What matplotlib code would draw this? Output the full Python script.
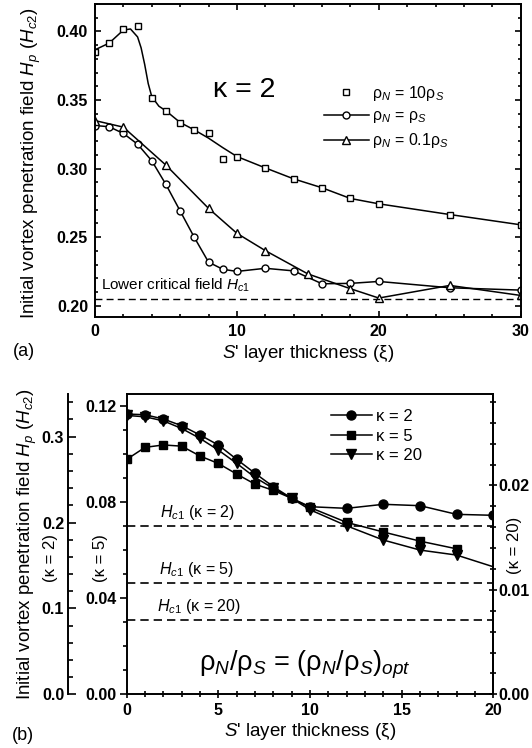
import matplotlib

matplotlib.use("Agg")
import matplotlib.pyplot as plt
from matplotlib.ticker import MultipleLocator, FormatStrFormatter

plt.rcParams['font.family'] = ['Liberation Sans', 'DejaVu Sans']
plt.rcParams['mathtext.fontset'] = 'custom'
plt.rcParams['mathtext.rm'] = 'Liberation Sans'
plt.rcParams['mathtext.it'] = 'Liberation Sans:italic'
plt.rcParams['mathtext.bf'] = 'Liberation Sans:bold'

# ---- panel (a): kappa = 2, three resistivity ratios ----
sq_x = [0, 1, 2, 3, 4, 5, 6, 7, 8, 9, 10, 12, 14, 16, 18, 20, 25, 30]
sq_y = [0.3847, 0.3913, 0.4017, 0.4036, 0.3518, 0.3421, 0.3332, 0.3282, 0.3262,
        0.3071, 0.3085, 0.3003, 0.2924, 0.2859, 0.2782, 0.2743, 0.2665, 0.2590]
# fitted curve drawn through the square data
sq_fit_x = [0, 1, 2, 2.5, 3, 3.25, 3.5, 3.75, 4, 4.5, 5, 6, 7, 8, 9, 10,
            12, 14, 16, 18, 20, 25, 30]
sq_fit_y = [0.3866, 0.3915, 0.4010, 0.4018, 0.3960, 0.3880, 0.3760, 0.3620,
            0.3525, 0.3455, 0.3421, 0.3336, 0.3282, 0.3222, 0.3153, 0.3088,
            0.3005, 0.2925, 0.2860, 0.2782, 0.2743, 0.2665, 0.2590]

ci_x = [0, 1, 2, 3, 4, 5, 6, 7, 8, 9, 10, 12, 14, 16, 18, 20, 25, 30]
ci_y = [0.3314, 0.3305, 0.3256, 0.3178, 0.3057, 0.2884, 0.2691, 0.2498, 0.2318,
        0.2266, 0.2250, 0.2273, 0.2254, 0.2160, 0.2163, 0.2177, 0.2131, 0.2114]

tr_x = [0, 2, 5, 8, 10, 12, 15, 18, 20, 25, 30]
tr_y = [0.3350, 0.3302, 0.3025, 0.2710, 0.2528, 0.2402, 0.2232, 0.2124,
        0.2056, 0.2148, 0.2075]

hc1_a = 0.2047

# ---- panel (b): optimal ratio, three kappas (each on its own axis) ----
xb = [0, 1, 2, 3, 4, 5, 6, 7, 8, 9, 10, 12, 14, 16, 18, 20]
k2_y = [0.3263, 0.3255, 0.3205, 0.3127, 0.3019, 0.2902, 0.2736, 0.2573, 0.2417,
        0.2282, 0.2184, 0.2165, 0.2212, 0.2196, 0.2095, 0.2084]
xb5 = [0, 1, 2, 3, 4, 5, 6, 7, 8, 9, 10, 12, 14, 16, 18]
k5_y = [0.0977, 0.1027, 0.1037, 0.1032, 0.0991, 0.0960, 0.0916, 0.0874, 0.0848,
        0.0815, 0.0777, 0.0715, 0.0675, 0.0637, 0.0605]
k20_y = [0.02670, 0.02657, 0.02618, 0.02545, 0.02450, 0.02338, 0.02211, 0.02077,
         0.01971, 0.01876, 0.01767, 0.01613, 0.01477, 0.01381, 0.01333, 0.01221]
hc1_k2 = 0.1956
hc1_k5 = 0.0463
hc1_k20 = 0.00711

W, H = 532, 748
TICK_FS = 11.5
LABEL_FS = 13.5
XLABEL = "$S$' layer thickness (ξ)"
YLABEL = 'Initial vortex penetration field $H_p$ ($H_{c2}$)'


def box(l, t, r, b):
    return [l / W, 1 - b / H, (r - l) / W, (b - t) / H]


fig = plt.figure(figsize=(W / 100, H / 100), dpi=100)

# Panel (a)
axa = fig.add_axes(box(95, 4, 520.7, 316.7))
axa.plot(sq_fit_x, sq_fit_y, color='k', lw=1.1)
axa.plot(sq_x, sq_y, ls='none', marker='s', ms=5, mfc='white', mec='k', mew=1,
         label='ρ$_N$ = 10ρ$_S$')
axa.plot(ci_x, ci_y, color='k', lw=1.1, marker='o', ms=5, mfc='white', mec='k',
         mew=1, label='ρ$_N$ = ρ$_S$')
axa.plot(tr_x, tr_y, color='k', lw=1.1, marker='^', ms=5.5, mfc='white', mec='k',
         mew=1, label='ρ$_N$ = 0.1ρ$_S$')
axa.axhline(hc1_a, color='k', lw=1, ls=(0, (5, 3)))
axa.set_xlim(0, 30)
axa.set_ylim(0.192, 0.420)
axa.xaxis.set_major_locator(MultipleLocator(10))
axa.xaxis.set_minor_locator(MultipleLocator(2))
axa.yaxis.set_major_locator(MultipleLocator(0.05))
axa.yaxis.set_minor_locator(MultipleLocator(0.01))
axa.yaxis.set_major_formatter(FormatStrFormatter('%.2f'))
axa.tick_params(which='both', direction='in', top=True, right=True, width=1.2)
axa.tick_params(which='major', length=4.5, labelsize=TICK_FS, pad=5)
axa.tick_params(which='minor', length=2.5)
for t in axa.get_xticklabels() + axa.get_yticklabels():
    t.set_fontweight('bold')
for s in axa.spines.values():
    s.set_linewidth(1.4)
axa.set_xlabel(XLABEL, fontsize=LABEL_FS, labelpad=3)
axa.set_ylabel(YLABEL, fontsize=LABEL_FS)
axa.yaxis.set_label_coords(-0.121, 0.49)
axa.text(10.5, 0.357, 'κ = 2', fontsize=20.5, ha='center', va='center')
axa.text(0.45, 0.2146, 'Lower critical field $H_{c1}$', fontsize=11,
         ha='left', va='center')
axa.legend(loc='upper left', bbox_to_anchor=(0.538, 0.745), frameon=False,
           fontsize=11.5, handlelength=2.8, handletextpad=0.2, labelspacing=0.36,
           borderpad=0, borderaxespad=0)
fig.text(24 / W, 1 - 352 / H, '(a)', fontsize=13, ha='center', va='center')

# Panel (b)
axb = fig.add_axes(box(126.7, 393.5, 493.3, 694.3))
axk2 = axb.twinx()
axk20 = axb.twinx()

axk2.spines['left'].set_position(('axes', (68.3 - 126.7) / 366.6))
axk2.spines['left'].set_visible(True)
for side in ('right', 'top', 'bottom'):
    axk2.spines[side].set_visible(False)
axk2.yaxis.set_ticks_position('left')
axk2.yaxis.set_label_position('left')

for side in ('left', 'top', 'bottom'):
    axk20.spines[side].set_visible(False)

h2, = axk2.plot(xb, k2_y, color='k', lw=1.1, marker='o', ms=6.5, label='κ = 2')
h5, = axb.plot(xb5, k5_y, color='k', lw=1.1, marker='s', ms=6, label='κ = 5')
h20, = axk20.plot(xb, k20_y, color='k', lw=1.1, marker='v', ms=6.5,
                  markevery=list(range(len(xb) - 1)), label='κ = 20')
axk2.axhline(hc1_k2, color='k', lw=1.2, ls=(0, (5, 3)))
axb.axhline(hc1_k5, color='k', lw=1.2, ls=(0, (5, 3)))
axk20.axhline(hc1_k20, color='k', lw=1.2, ls=(0, (5, 3)))

axb.set_xlim(0, 20)
axb.set_ylim(0, 0.1251)
axk2.set_ylim(0, 0.3502)
axk20.set_ylim(0, 0.0288)

axb.xaxis.set_major_locator(MultipleLocator(5))
axb.xaxis.set_minor_locator(MultipleLocator(1))
axb.yaxis.set_major_locator(MultipleLocator(0.04))
axb.yaxis.set_minor_locator(MultipleLocator(0.01))
axb.yaxis.set_major_formatter(FormatStrFormatter('%.2f'))
axk2.yaxis.set_major_locator(MultipleLocator(0.1))
axk2.yaxis.set_minor_locator(MultipleLocator(0.02))
axk2.yaxis.set_major_formatter(FormatStrFormatter('%.1f'))
axk20.yaxis.set_major_locator(MultipleLocator(0.01))
axk20.yaxis.set_minor_locator(MultipleLocator(0.002))
axk20.yaxis.set_major_formatter(FormatStrFormatter('%.2f'))

axb.tick_params(axis='x', which='both', direction='inout', width=1.2)
axb.tick_params(axis='x', which='major', length=6, pad=3)
axb.tick_params(axis='x', which='minor', length=4)
axb.tick_params(axis='y', which='both', direction='out', width=1.2, right=False)
axb.tick_params(axis='y', which='major', length=5, pad=2)
axb.tick_params(axis='y', which='minor', length=3)
axk2.tick_params(axis='y', which='both', direction='in', width=1.2)
axk2.tick_params(axis='y', which='major', length=6, pad=3)
axk2.tick_params(axis='y', which='minor', length=3.5)
axk20.tick_params(axis='y', which='both', direction='inout', width=1.2)
axk20.tick_params(axis='y', which='major', length=6, pad=1)
axk20.tick_params(axis='y', which='minor', length=4)
for a in (axb, axk2, axk20):
    a.tick_params(labelsize=TICK_FS)
    for t in a.get_xticklabels() + a.get_yticklabels():
        t.set_fontweight('bold')
    for s in a.spines.values():
        s.set_linewidth(1.4)

axb.set_xlabel(XLABEL, fontsize=LABEL_FS, labelpad=2.5)
axk2.set_ylabel(YLABEL, fontsize=LABEL_FS)
axk2.yaxis.set_label_coords(-0.239, 0.5, transform=axb.transAxes)

fig.text(50 / W, 1 - 558 / H, '(κ = 2)', rotation=90, fontsize=12,
         ha='center', va='center')
fig.text(100 / W, 1 - 558 / H, '(κ = 5)', rotation=90, fontsize=12,
         ha='center', va='center')
fig.text(515 / W, 1 - 545 / H, '(κ = 20)', rotation=90, fontsize=12,
         ha='center', va='center')

axb.text(1.8, 0.0757, '$H_{c1}$ (κ = 2)', fontsize=11.5, va='center')
axb.text(1.75, 0.0517, '$H_{c1}$ (κ = 5)', fontsize=11.5, va='center')
axb.text(1.65, 0.0367, '$H_{c1}$ (κ = 20)', fontsize=11.5, va='center')
axb.text(9.7, 0.0122, 'ρ$_N$/ρ$_S$ = (ρ$_N$/ρ$_S$)$_{opt}$', fontsize=19.5,
         ha='center', va='center')

axk20.legend([h2, h5, h20], ['κ = 2', 'κ = 5', 'κ = 20'], loc='upper left',
             bbox_to_anchor=(0.557, 0.948), frameon=False, fontsize=12,
             handlelength=2.45, handletextpad=0.25, labelspacing=0.27,
             borderpad=0, borderaxespad=0)
fig.text(23 / W, 1 - 736 / H, '(b)', fontsize=13, ha='center', va='center')

fig.savefig('out.png', dpi=100)
